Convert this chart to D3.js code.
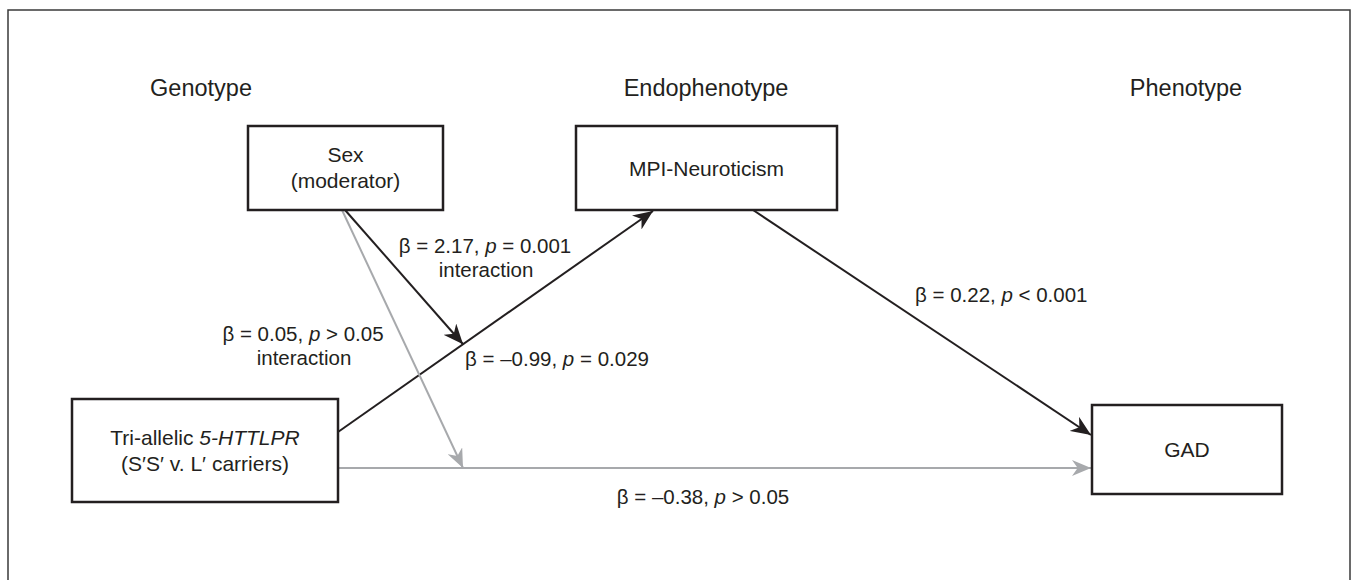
<!DOCTYPE html>
<html>
<head>
<meta charset="utf-8">
<script src="https://cdn.jsdelivr.net/npm/d3@7"></script>
<style>
  body { margin: 0; background: #fff; }
  text { font-family: "Liberation Sans", Arial, sans-serif; fill: #231f20; }
</style>
</head>
<body>
<div class="container"></div>
<script>
// data
const columns = ['Genotype', 'Endophenotype', 'Phenotype'];
const nodeIds = ['sex', 'tri', 'mpi', 'gad'];
const nodeLines = [
  [[{ t: 'Sex' }], [{ t: '(moderator)' }]],
  [[{ t: 'Tri-allelic ' }, { t: '5-HTTLPR', i: true }], [{ t: '(S\u2032S\u2032 v. L\u2032 carriers)' }]],
  [[{ t: 'MPI-Neuroticism' }]],
  [[{ t: 'GAD' }]]
];
// main paths: from, to, beta, p operator, p value, significant?
const pathIds = ['triMpi', 'mpiGad', 'triGad'];
const pathFrom = ['tri', 'mpi', 'tri'];
const pathTo = ['mpi', 'gad', 'gad'];
const pathBeta = [-0.99, 0.22, -0.38];
const pathOp = ['=', '<', '>'];
const pathP = ['0.029', '0.001', '0.05'];
const pathSig = [true, true, false];
// moderation paths: from sex onto a main path
const modTarget = ['triMpi', 'triGad'];
const modBeta = [2.17, 0.05];
const modOp = ['=', '>'];
const modP = ['0.001', '0.05'];
const modSig = [true, false];

const renderDiagram = () => {
  const width = 1354;
  const height = 580;
  const black = '#231f20';
  const grey = '#a7a9ac';

  // layout (pixel positions of boxes, anchors and labels)
  const boxes = {
    sex: { x: 248, y: 126, w: 195, h: 84 },
    tri: { x: 72, y: 399, w: 266, h: 103 },
    mpi: { x: 576, y: 126, w: 261, h: 84 },
    gad: { x: 1092, y: 405, w: 190, h: 89 }
  };
  const anchors = {
    triMpi: { s: [338, 432], e: [653, 211] },
    mpiGad: { s: [753, 210], e: [1091, 435] },
    triGad: { s: [338, 468], e: [1091, 468] }
  };
  const modStart = { triMpi: [345, 210], triGad: [342, 210] };
  const modT = { triMpi: 0.397, triGad: 0.166 };
  const pathLabelPos = {
    triMpi: { x: 465, y: 366, a: 'start' },
    mpiGad: { x: 915, y: 302, a: 'start' },
    triGad: { x: 703, y: 504, a: 'middle' }
  };
  const modLabelPos = {
    triMpi: { x: 485, y: 253 },
    triGad: { x: 303, y: 341 }
  };
  const headerX = [201, 706, 1186];

  const svg = d3.select('.container').append('svg').attr('width', width).attr('height', height);

  //arrow markers
  const defs = svg.append('defs');
  const marker = (id, color, len, half) => {
    defs
      .append('marker')
      .attr('id', id)
      .attr('markerUnits', 'userSpaceOnUse')
      .attr('viewBox', `${-len} ${-half} ${len + 1} ${half * 2}`)
      .attr('refX', 0)
      .attr('refY', 0)
      .attr('markerWidth', len + 1)
      .attr('markerHeight', half * 2)
      .attr('orient', 'auto')
      .append('path')
      .attr('d', `M0,0 L${-len},${-half} L${-len * 0.7},0 L${-len},${half} Z`)
      .attr('fill', color);
  };
  marker('arrow-black', black, 20, 8.5);
  marker('arrow-grey', grey, 19, 8);

  //frame
  svg
    .append('path')
    .attr('d', `M8,${height + 10} V10 H1350 V${height + 10}`)
    .attr('fill', 'none')
    .attr('stroke', '#3a3a3a')
    .attr('stroke-width', 1.5);

  //headers
  svg
    .append('g')
    .selectAll('text')
    .data(columns)
    .join('text')
    .attr('x', (d, i) => headerX[i])
    .attr('y', 96)
    .attr('text-anchor', 'middle')
    .attr('font-size', 23.5)
    .text(d => d);

  const fmt = v => (v < 0 ? '\u2013' : '') + Math.abs(v).toFixed(2);
  const writeStat = (sel, beta, op, p) => {
    sel.append('tspan').text(`\u03b2 = ${fmt(beta)}, `);
    sel.append('tspan').attr('font-style', 'italic').text('p');
    sel.append('tspan').text(` ${op} ${p}`);
  };

  //main paths
  const lines = svg.append('g').attr('class', 'paths');
  pathIds.forEach((id, i) => {
    const a = anchors[id];
    const color = pathSig[i] ? black : grey;
    lines
      .append('line')
      .attr('x1', a.s[0])
      .attr('y1', a.s[1])
      .attr('x2', a.e[0])
      .attr('y2', a.e[1])
      .attr('stroke', color)
      .attr('stroke-width', 2)
      .attr('marker-end', `url(#arrow-${pathSig[i] ? 'black' : 'grey'})`);
    const lp = pathLabelPos[id];
    const t = lines
      .append('text')
      .attr('x', lp.x)
      .attr('y', lp.y)
      .attr('text-anchor', lp.a)
      .attr('font-size', 20.5);
    writeStat(t, pathBeta[i], pathOp[i], pathP[i]);
  });

  //moderation paths (grey drawn first so black sits on top)
  const order = d3.range(modTarget.length).sort((a, b) => modSig[a] - modSig[b]);
  order.forEach(i => {
    const id = modTarget[i];
    const a = anchors[id];
    const end = d3.interpolate(a.s, a.e)(modT[id]);
    const color = modSig[i] ? black : grey;
    lines
      .append('line')
      .attr('x1', modStart[id][0])
      .attr('y1', modStart[id][1])
      .attr('x2', end[0])
      .attr('y2', end[1])
      .attr('stroke', color)
      .attr('stroke-width', 2)
      .attr('marker-end', `url(#arrow-${modSig[i] ? 'black' : 'grey'})`);
    const lp = modLabelPos[id];
    const t = lines
      .append('text')
      .attr('x', lp.x)
      .attr('y', lp.y)
      .attr('text-anchor', 'middle')
      .attr('font-size', 20.5);
    writeStat(t, modBeta[i], modOp[i], modP[i]);
    lines
      .append('text')
      .attr('x', lp.x + 1)
      .attr('y', lp.y + 24)
      .attr('text-anchor', 'middle')
      .attr('font-size', 20.5)
      .text('interaction');
  });

  //boxes
  const nodes = svg
    .append('g')
    .attr('class', 'nodes')
    .selectAll('g')
    .data(nodeIds)
    .join('g')
    .attr('transform', d => `translate(${boxes[d].x},${boxes[d].y})`);

  nodes
    .append('rect')
    .attr('width', d => boxes[d].w)
    .attr('height', d => boxes[d].h)
    .attr('fill', '#fff')
    .attr('stroke', black)
    .attr('stroke-width', 2.5);

  nodes.each(function (d, i) {
    const b = boxes[d];
    const ls = nodeLines[i];
    const y0 = ls.length === 1 ? b.h / 2 + 7.5 : b.h / 2 - 6;
    ls.forEach((parts, j) => {
      const t = d3
        .select(this)
        .append('text')
        .attr('x', b.w / 2)
        .attr('y', y0 + j * 26)
        .attr('text-anchor', 'middle')
        .attr('font-size', 21);
      parts.forEach(p => {
        t.append('tspan').attr('font-style', p.i ? 'italic' : null).text(p.t);
      });
    });
  });
};

renderDiagram();
</script>
</body>
</html>
